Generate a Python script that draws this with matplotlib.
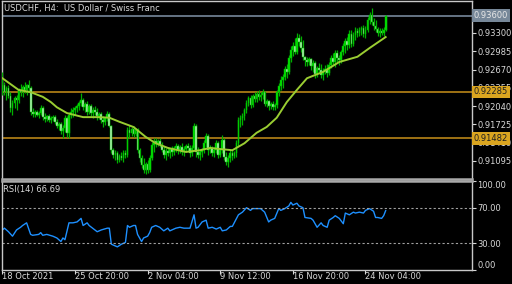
import matplotlib
matplotlib.use("Agg")
import matplotlib.pyplot as plt

title = "USDCHF, H4:  US Dollar / Swiss Franc"

# H4 candles, one entry per bar
opens = [
    .9232, .9240, .9228, .9235, .9221, .9201, .9209, .9218, .9215, .9232,
    .9228, .9237, .9232, .9240, .9235, .9194, .9190, .9194, .9189, .9192,
    .9201, .9185, .9182, .9187, .9180, .9184, .9185, .9177, .9170, .9173,
    .9161, .9166, .9184, .9158, .9189, .9194, .9197, .9201, .9204, .9209,
    .9215, .9202, .9208, .9194, .9204, .9192, .9197, .9194, .9187, .9190,
    .9180, .9177, .9184, .9190, .9170, .9128, .9120, .9123, .9111, .9118,
    .9115, .9123, .9120, .9163, .9158, .9165, .9156, .9163, .9128, .9115,
    .9103, .9094, .9104, .9094, .9115, .9137, .9144, .9139, .9144, .9137,
    .9128, .9120, .9127, .9123, .9130, .9125, .9132, .9135, .9128, .9134,
    .9125, .9130, .9135, .9132, .9123, .9132, .9170, .9125, .9120, .9125,
    .9128, .9140, .9153, .9128, .9132, .9123, .9128, .9140, .9120, .9128,
    .9146, .9116, .9108, .9115, .9123, .9118, .9123, .9140, .9180, .9184,
    .9187, .9197, .9209, .9218, .9206, .9221, .9216, .9225, .9220, .9223,
    .9228, .9208, .9213, .9204, .9208, .9202, .9206, .9228, .9239, .9249,
    .9254, .9268, .9263, .9287, .9301, .9308, .9297, .9321, .9314, .9304,
    .9289, .9283, .9280, .9285, .9273, .9278, .9259, .9270, .9266, .9258,
    .9265, .9268, .9261, .9275, .9287, .9280, .9296, .9287, .9283, .9297,
    .9308, .9316, .9309, .9328, .9311, .9327, .9333, .9330, .9335, .9339,
    .9328, .9335, .9352, .9361, .9349, .9342, .9337, .9330, .9333, .9330, .9335,
]
highs = [
    .9263, .9246, .9239, .9240, .9228, .9215, .9221, .9223, .9235, .9242,
    .9240, .9246, .9242, .9249, .9239, .9201, .9197, .9197, .9196, .9206,
    .9204, .9192, .9189, .9190, .9187, .9189, .9189, .9182, .9177, .9177,
    .9171, .9189, .9187, .9194, .9201, .9202, .9204, .9208, .9213, .9227,
    .9218, .9211, .9213, .9208, .9208, .9202, .9204, .9201, .9194, .9194,
    .9187, .9185, .9196, .9194, .9171, .9132, .9128, .9127, .9122, .9125,
    .9128, .9128, .9168, .9171, .9168, .9170, .9166, .9166, .9132, .9120,
    .9115, .9108, .9111, .9120, .9142, .9149, .9149, .9147, .9149, .9142,
    .9135, .9132, .9134, .9132, .9135, .9135, .9140, .9139, .9137, .9140,
    .9135, .9139, .9140, .9137, .9137, .9175, .9173, .9134, .9128, .9132,
    .9146, .9158, .9156, .9137, .9135, .9134, .9146, .9144, .9132, .9154,
    .9149, .9125, .9120, .9128, .9128, .9127, .9146, .9185, .9189, .9192,
    .9201, .9215, .9221, .9223, .9225, .9228, .9230, .9232, .9228, .9234,
    .9230, .9216, .9215, .9211, .9213, .9209, .9232, .9244, .9256, .9259,
    .9273, .9277, .9292, .9308, .9314, .9321, .9330, .9328, .9325, .9318,
    .9290, .9289, .9289, .9287, .9283, .9282, .9273, .9278, .9277, .9270,
    .9275, .9277, .9280, .9292, .9296, .9301, .9301, .9292, .9301, .9313,
    .9321, .9323, .9335, .9335, .9332, .9340, .9339, .9340, .9342, .9344,
    .9342, .9358, .9366, .9373, .9356, .9352, .9340, .9339, .9339, .9340, .9361,
]
lows = [
    .9223, .9223, .9215, .9218, .9194, .9189, .9201, .9197, .9209, .9221,
    .9220, .9227, .9223, .9228, .9189, .9185, .9185, .9187, .9184, .9189,
    .9180, .9177, .9178, .9177, .9175, .9178, .9173, .9166, .9163, .9156,
    .9149, .9159, .9151, .9149, .9184, .9185, .9189, .9194, .9197, .9204,
    .9197, .9194, .9189, .9190, .9187, .9184, .9189, .9180, .9182, .9175,
    .9168, .9171, .9178, .9168, .9123, .9115, .9111, .9106, .9108, .9111,
    .9108, .9115, .9116, .9149, .9153, .9151, .9153, .9123, .9108, .9097,
    .9089, .9087, .9089, .9090, .9111, .9125, .9134, .9135, .9134, .9125,
    .9115, .9111, .9118, .9115, .9118, .9120, .9125, .9122, .9123, .9120,
    .9118, .9125, .9127, .9116, .9118, .9128, .9116, .9115, .9111, .9116,
    .9123, .9134, .9120, .9123, .9118, .9116, .9123, .9115, .9116, .9123,
    .9111, .9103, .9099, .9108, .9111, .9115, .9116, .9135, .9168, .9171,
    .9180, .9192, .9204, .9201, .9202, .9211, .9211, .9215, .9213, .9216,
    .9204, .9202, .9197, .9199, .9197, .9197, .9201, .9221, .9232, .9235,
    .9249, .9252, .9259, .9280, .9290, .9294, .9294, .9308, .9297, .9283,
    .9273, .9273, .9275, .9266, .9263, .9252, .9254, .9263, .9252, .9249,
    .9259, .9254, .9258, .9270, .9275, .9271, .9280, .9275, .9278, .9292,
    .9296, .9301, .9304, .9306, .9308, .9318, .9323, .9325, .9327, .9323,
    .9321, .9332, .9346, .9344, .9335, .9332, .9325, .9323, .9327, .9325, .9333,
]
closes = [
    .9240, .9228, .9235, .9221, .9201, .9209, .9218, .9215, .9232, .9228,
    .9237, .9232, .9240, .9235, .9194, .9190, .9194, .9189, .9192, .9201,
    .9185, .9182, .9187, .9180, .9184, .9185, .9177, .9170, .9173, .9161,
    .9166, .9184, .9158, .9189, .9194, .9197, .9201, .9204, .9209, .9215,
    .9202, .9208, .9194, .9204, .9192, .9197, .9194, .9187, .9190, .9180,
    .9177, .9184, .9190, .9170, .9128, .9120, .9123, .9111, .9118, .9115,
    .9123, .9120, .9163, .9158, .9165, .9156, .9163, .9128, .9115, .9103,
    .9094, .9104, .9094, .9115, .9137, .9144, .9139, .9144, .9137, .9128,
    .9120, .9127, .9123, .9130, .9125, .9132, .9135, .9128, .9134, .9125,
    .9130, .9135, .9132, .9123, .9132, .9170, .9125, .9120, .9125, .9128,
    .9140, .9153, .9128, .9132, .9123, .9128, .9140, .9120, .9128, .9146,
    .9116, .9108, .9115, .9123, .9118, .9123, .9140, .9180, .9184, .9187,
    .9197, .9209, .9218, .9206, .9221, .9216, .9225, .9220, .9223, .9228,
    .9208, .9213, .9204, .9208, .9202, .9206, .9228, .9239, .9249, .9254,
    .9268, .9263, .9287, .9301, .9308, .9297, .9321, .9314, .9304, .9289,
    .9283, .9280, .9285, .9273, .9278, .9259, .9270, .9266, .9258, .9265,
    .9268, .9261, .9275, .9287, .9280, .9296, .9287, .9283, .9297, .9308,
    .9316, .9309, .9328, .9311, .9327, .9333, .9330, .9335, .9339, .9328,
    .9335, .9352, .9361, .9349, .9342, .9337, .9330, .9333, .9330, .9335, .9360,
]

# moving average read at selected bars
ma_idx = [0, 8, 14, 20, 24, 27, 32, 40, 48, 53, 58, 65, 71, 76, 82, 91, 98,
          103, 108, 114, 120, 126, 131, 136, 141, 146, 151, 159, 167, 176, 182, 190]
ma_val = [.9252, .9232, .9228, .9220, .9211, .9202, .9192, .9185, .9185, .9184,
          .9177, .9168, .9151, .9140, .9132, .9125, .9128, .9132, .9130, .9128,
          .9140, .9158, .9168, .9184, .9211, .9232, .9252, .9263, .9280, .9289,
          .9304, .9323]

# RSI(14) read at selected bars
rsi_idx = [0, 1, 3, 5, 7, 9, 10, 12, 14, 15, 18, 19, 20, 22, 25, 27, 29, 30, 31, 33,
           35, 37, 39, 40, 42, 43, 47, 49, 52, 53, 54, 57, 59, 61, 62, 63, 65, 66, 67, 69,
           70, 72, 73, 74, 76, 78, 80, 82, 83, 86, 88, 90, 93, 95, 96, 97, 99, 101, 102, 104,
           106, 108, 109, 111, 113, 114, 117, 119, 121, 123, 124, 126, 128, 130, 132, 133,
           135, 137, 138, 140, 142, 143, 144, 146, 147, 149, 150, 153, 154, 156, 158, 159,
           161, 162, 164, 165, 167, 169, 170, 172, 174, 175, 177, 179, 180, 182, 184, 185,
           186, 188, 189, 190]
rsi_val = [45, 47, 43, 38, 45, 48, 50, 53, 40, 39, 40, 42, 39, 40, 38, 36, 32, 36, 34, 53,
           53, 54, 58, 50, 53, 50, 43, 45, 47, 47, 29, 26, 29, 31, 50, 48, 50, 50, 40, 32,
           36, 38, 42, 48, 50, 48, 44, 47, 44, 47, 48, 47, 47, 62, 47, 48, 54, 56, 47, 48,
           46, 48, 44, 45, 49, 49, 62, 65, 70, 67, 69, 69, 69, 65, 54, 56,
           58, 69, 67, 69, 72, 76, 73, 75, 72, 70, 59, 58, 56, 48, 53, 50,
           48, 56, 59, 61, 58, 52, 64, 62, 65, 64, 65, 64, 67, 69, 66, 59,
           59, 58, 61, 66.69]

price_ticks = [0.93300, 0.92985, 0.92670, 0.92355, 0.92040, 0.91725, 0.91410, 0.91095]
levels = [0.92285, 0.91482]
bid = 0.93600
rsi_levels = [70, 30]
rsi_ticks = [100, 70, 30, 0]
date_pos = [0, 36, 72, 108, 144, 180]
date_labels = ["18 Oct 2021", "25 Oct 20:00", "2 Nov 04:00", "9 Nov 12:00",
               "16 Nov 20:00", "24 Nov 04:00"]

FG = '#d8d8d8'
WICK = '#00b000'
BULL = '#00e600'
BEAR = '#b8f5b8'

fig = plt.figure(figsize=(5.12, 2.84), dpi=100, facecolor='black')
ax = fig.add_axes([2/512, 1 - 179/284, 470/512, 178/284], facecolor='black')
ax2 = fig.add_axes([2/512, 1 - 270/284, 470/512, 89/284], facecolor='black', sharex=ax)

# candles
idx = list(range(len(closes)))
ax.vlines(idx, lows, highs, color=WICK, lw=0.9, zorder=3)
bottoms = [min(o, c) for o, c in zip(opens, closes)]
heights = [max(abs(c - o), 0.00004) for o, c in zip(opens, closes)]
colors = [BULL if c >= o else BEAR for o, c in zip(opens, closes)]
ax.bar(idx, heights, bottom=bottoms, width=0.85, color=colors,
       edgecolor=WICK, linewidth=0.35, zorder=4)

ax.plot(ma_idx, ma_val, color='#9acd32', lw=1.4, zorder=5)

for lv in levels:
    ax.axhline(lv, color='#c8901a', lw=1.1, zorder=2)
ax.axhline(bid, color='#76879a', lw=1.2, zorder=2)

ax.set_xlim(-0.2, 232.8)
ax.set_ylim(0.90784, 0.93851)
ax.yaxis.tick_right()
ax.set_yticks(price_ticks)
ax.set_yticklabels([f"{v:.5f}" for v in price_ticks])
ax.tick_params(axis='y', colors=FG, labelsize=6, length=3, width=0.8, pad=1)
ax.tick_params(axis='x', bottom=False, labelbottom=False)

for lv in levels:
    ax.text(1.004, lv, f"{lv:.5f}", transform=ax.get_yaxis_transform(),
            va='center', ha='left', fontsize=6, color='#202020', clip_on=False, zorder=10,
            bbox=dict(boxstyle='square,pad=0.2', fc='#daa520', ec='none'))
ax.text(1.004, bid, f"{bid:.5f}", transform=ax.get_yaxis_transform(),
        va='center', ha='left', fontsize=6, color='#e8e8e8', clip_on=False, zorder=10,
        bbox=dict(boxstyle='square,pad=0.2', fc='#778899', ec='none'))

ax.text(0.005, 0.985, title, transform=ax.transAxes, va='top', ha='left',
        fontsize=6, color=FG)

# RSI panel
ax2.plot(rsi_idx, rsi_val, color='#1e90ff', lw=1.0)
for lv in rsi_levels:
    ax2.axhline(lv, color='#a0a0a0', lw=0.8, ls=(0, (2, 2)))
ax2.set_ylim(0, 100)
ax2.yaxis.tick_right()
ax2.set_yticks(rsi_ticks)
ax2.set_yticklabels([f"{v:.2f}" for v in rsi_ticks])
ax2.tick_params(axis='y', colors=FG, labelsize=6, length=3, width=0.8, pad=1)
ylbls = ax2.get_yticklabels()
ylbls[0].set_va('top')
ylbls[-1].set_va('bottom')
ax2.set_xticks(date_pos)
ax2.set_xticklabels(date_labels)
ax2.tick_params(axis='x', colors=FG, labelsize=6, length=3, width=0.8, pad=-1.5)
for lbl in ax2.get_xticklabels():
    lbl.set_ha('left')
ax2.text(0.003, 0.95, "RSI(14) 66.69", transform=ax2.transAxes, va='top', ha='left',
         fontsize=6, color=FG)

for a in (ax, ax2):
    for s in a.spines.values():
        s.set_color('#c8c8c8')
        s.set_linewidth(1)
ax.spines['bottom'].set_color('#a8a8a8')
ax.spines['bottom'].set_linewidth(1.8)
ax2.spines['top'].set_color('#a8a8a8')
ax2.spines['top'].set_linewidth(1.8)

fig.savefig('out.png', dpi=100, facecolor='black')
